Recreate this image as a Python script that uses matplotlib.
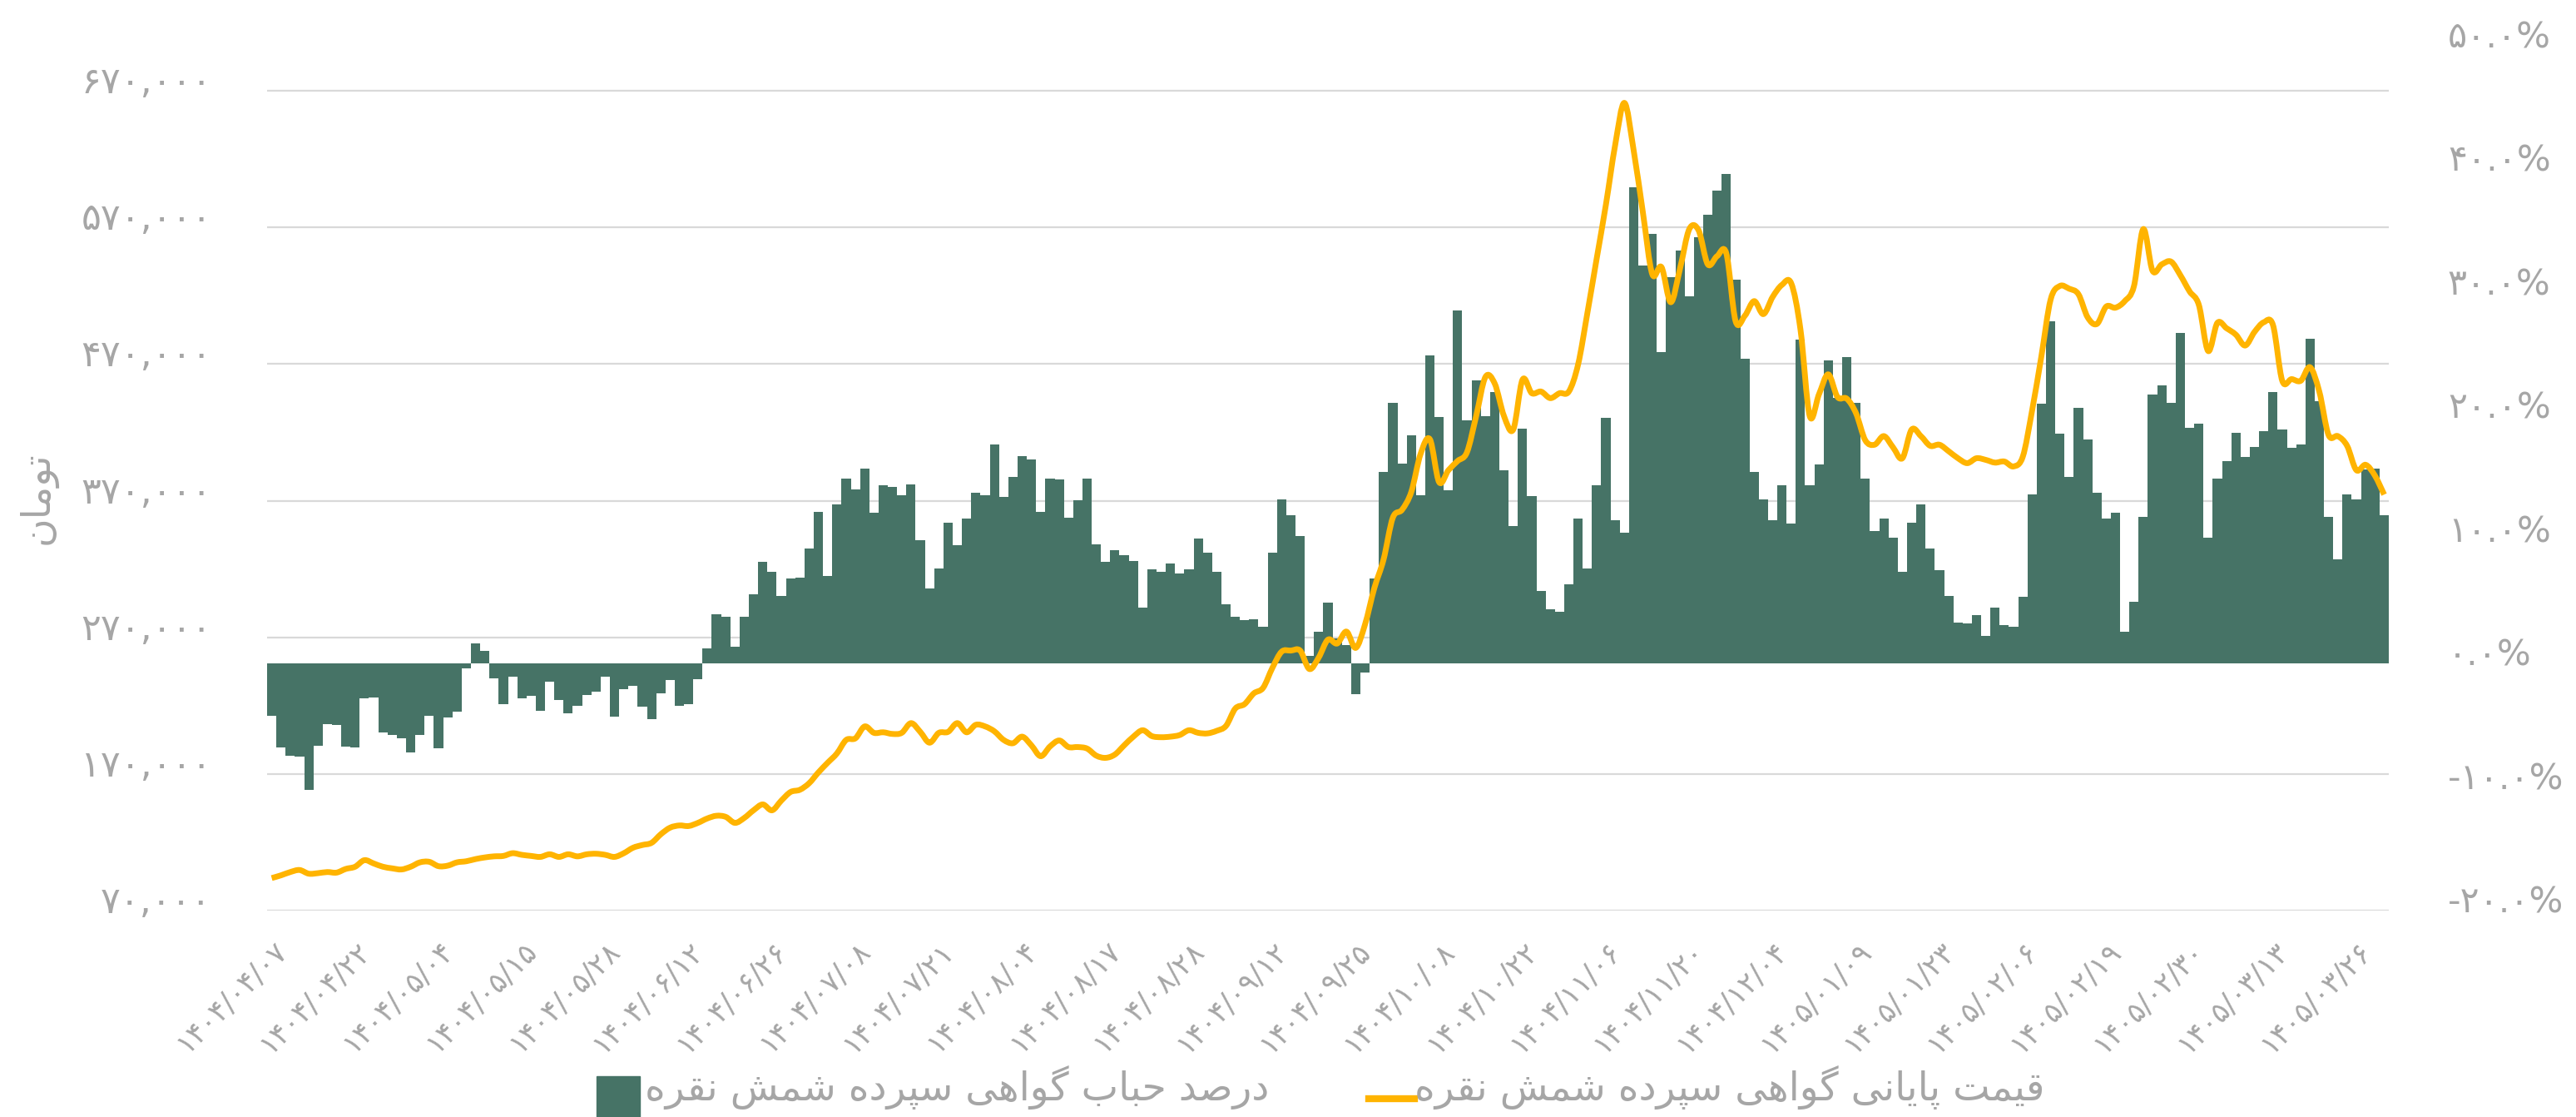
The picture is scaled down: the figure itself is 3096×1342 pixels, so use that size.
import numpy as np
import matplotlib
matplotlib.use('Agg')
import matplotlib.pyplot as plt
from matplotlib.path import Path
from matplotlib.patches import PathPatch, Rectangle
from matplotlib.lines import Line2D
import matplotlib.transforms as mtransforms
from matplotlib.ticker import FixedLocator, FuncFormatter

plt.rcParams['font.family'] = ['DejaVu Sans']

# ---------------- data ----------------
bubble_pct = [
    -4.25, -6.8, -7.5, -7.55, -10.2, -6.67, -4.9, -5.0, -6.7, -6.8,
    -2.85, -2.76, -5.6, -5.8, -6.05, -7.2, -5.8, -4.25, -6.85, -4.4,
    -3.9, -0.4, 1.6, 1.05, -1.2, -3.3, -1.05, -2.8, -2.6, -3.8,
    -1.45, -2.95, -4.0, -3.4, -2.55, -2.3, -1.05, -4.3, -2.1, -1.8,
    -3.5, -4.5, -2.4, -1.36, -3.45, -3.3, -1.27, 1.2, 4.0, 3.8,
    1.36, 3.8, 5.6, 8.25, 7.45, 5.5, 6.9, 6.97, 9.34, 12.3,
    7.06, 12.85, 15.0, 14.1, 15.75, 12.2, 14.4, 14.3, 13.6, 14.5,
    10.0, 6.05, 7.7, 11.4, 9.6, 11.7, 13.8, 13.6, 17.7, 13.5,
    15.1, 16.8, 16.5, 12.3, 15.0, 14.9, 11.8, 13.2, 14.95, 9.65,
    8.25, 9.2, 8.8, 8.3, 4.5, 7.6, 7.45, 8.1, 7.3, 7.6,
    10.1, 9.0, 7.45, 4.8, 3.8, 3.5, 3.55, 3.0, 8.95, 13.25,
    12.0, 10.3, 0.6, 2.6, 4.9, 2.0, 1.5, -2.45, -0.75, 6.9,
    15.5, 21.1, 16.2, 18.5, 13.6, 24.95, 19.95, 14.0, 28.6, 19.65,
    22.9, 20.0, 22.0, 15.65, 11.1, 19.0, 13.55, 5.9, 4.4, 4.2,
    6.4, 11.75, 7.7, 14.4, 19.9, 11.6, 10.6, 38.55, 32.2, 34.8,
    25.2, 31.3, 33.4, 29.7, 34.5, 36.35, 38.3, 39.6, 31.05, 24.7,
    15.5, 13.3, 11.6, 14.4, 11.3, 26.2, 14.4, 16.1, 24.5, 21.5,
    24.8, 21.1, 15.0, 10.75, 11.7, 10.2, 7.45, 11.4, 12.9, 9.3,
    7.55, 5.5, 3.3, 3.25, 3.9, 2.2, 4.5, 3.1, 3.0, 5.4,
    13.7, 21.0, 27.7, 18.6, 15.1, 20.7, 18.15, 13.8, 11.75, 12.2,
    2.6, 5.0, 11.9, 21.8, 22.5, 21.1, 26.75, 19.1, 19.4, 10.2,
    14.95, 16.35, 18.7, 16.7, 17.5, 18.8, 22.0, 18.95, 17.45, 17.75,
    26.3, 21.2, 11.85, 8.4, 13.7, 13.25, 15.7, 15.8, 12.0,
]

price = [
    93800, 95800, 98200, 99700, 97000, 97400, 98200, 97800, 100500, 102100,
    106900, 104500, 102100, 100900, 100100, 102100, 105300, 105700, 102500, 102900,
    105300, 106100, 107700, 108900, 109700, 110000, 112000, 110800, 110000, 109300,
    111200, 109300, 111200, 109700, 111200, 111600, 110800, 109300, 112000, 116000,
    118000, 119600, 125900, 130700, 132300, 131900, 134200, 137400, 139400, 138600,
    134200, 137800, 143400, 147700, 143400, 150500, 156800, 158400, 163200, 171100,
    178200, 185000, 194900, 196100, 204800, 200100, 200500, 199300, 200100, 207200,
    200800, 192900, 200100, 200800, 207200, 200500, 206000, 204800, 201200, 194900,
    192500, 197300, 190900, 183000, 190100, 194500, 189700, 189700, 188600, 183400,
    181800, 184200, 190900, 197300, 202000, 197700, 196900, 197300, 198500, 202000,
    200100, 199700, 201600, 205200, 217900, 221100, 229000, 233000, 247600, 259500,
    260300, 260300, 246800, 255200, 268300, 265500, 274200, 262300, 279400, 305900,
    326900, 357500, 363400, 376500, 404300, 415000, 383600, 392300, 399100, 405400,
    432000, 460600, 455800, 432000, 422100, 458600, 448700, 449900, 445100, 448700,
    449900, 469700, 507300, 547000, 586600, 630300, 661200, 626300, 580700, 535900,
    541000, 515300, 539900, 568800, 568000, 543000, 549000, 551000, 501400, 505400,
    516100, 506600, 519200, 528000, 529200, 495400, 432000, 447900, 462500, 445900,
    444700, 434000, 414200, 411000, 417300, 409000, 401100, 422100, 417300, 410200,
    411000, 406200, 401100, 397500, 401100, 399900, 397900, 398700, 395100, 402300,
    436000, 475600, 517200, 527200, 525200, 521200, 504200, 499400, 512100, 511300,
    516100, 527200, 568800, 538300, 543000, 545000, 535100, 523200, 513300, 479600,
    500200, 496200, 491500, 483600, 493500, 500600, 498600, 457800, 459000, 457800,
    467700, 449900, 418100, 417300, 410200, 392400, 396300, 388400, 374500,
]

date_labels = [
    '۱۴۰۴/۰۴/۰۷', '۱۴۰۴/۰۴/۲۲', '۱۴۰۴/۰۵/۰۴', '۱۴۰۴/۰۵/۱۵', '۱۴۰۴/۰۵/۲۸',
    '۱۴۰۴/۰۶/۱۲', '۱۴۰۴/۰۶/۲۶', '۱۴۰۴/۰۷/۰۸', '۱۴۰۴/۰۷/۲۱', '۱۴۰۴/۰۸/۰۴',
    '۱۴۰۴/۰۸/۱۷', '۱۴۰۴/۰۸/۲۸', '۱۴۰۴/۰۹/۱۲', '۱۴۰۴/۰۹/۲۵', '۱۴۰۴/۱۰/۰۸',
    '۱۴۰۴/۱۰/۲۲', '۱۴۰۴/۱۱/۰۶', '۱۴۰۴/۱۱/۲۰', '۱۴۰۴/۱۲/۰۴', '۱۴۰۵/۰۱/۰۹',
    '۱۴۰۵/۰۱/۲۳', '۱۴۰۵/۰۲/۰۶', '۱۴۰۵/۰۲/۱۹', '۱۴۰۵/۰۲/۳۰', '۱۴۰۵/۰۳/۱۳',
    '۱۴۰۵/۰۳/۲۶',
]
price_ticks = [70000, 170000, 270000, 370000, 470000, 570000, 670000]
pct_ticks = [-20, -10, 0, 10, 20, 30, 40, 50]
legend_bar = 'درصد حباب گواهی سپرده شمش نقره'
legend_line = 'قیمت پایانی گواهی سپرده شمش نقره'
y_label = 'تومان'

# ---------------- helpers ----------------
FORMS = {
    'ا': ('\uFE8D', '\uFE8E', None, None),
    'ب': ('\uFE8F', '\uFE90', '\uFE91', '\uFE92'),
    'ت': ('\uFE95', '\uFE96', '\uFE97', '\uFE98'),
    'ح': ('\uFEA1', '\uFEA2', '\uFEA3', '\uFEA4'),
    'د': ('\uFEA9', '\uFEAA', None, None),
    'ر': ('\uFEAD', '\uFEAE', None, None),
    'س': ('\uFEB1', '\uFEB2', '\uFEB3', '\uFEB4'),
    'ش': ('\uFEB5', '\uFEB6', '\uFEB7', '\uFEB8'),
    'ص': ('\uFEB9', '\uFEBA', '\uFEBB', '\uFEBC'),
    'ق': ('\uFED5', '\uFED6', '\uFED7', '\uFED8'),
    'م': ('\uFEE1', '\uFEE2', '\uFEE3', '\uFEE4'),
    'ن': ('\uFEE5', '\uFEE6', '\uFEE7', '\uFEE8'),
    'ه': ('\uFEE9', '\uFEEA', '\uFEEB', '\uFEEC'),
    'و': ('\uFEED', '\uFEEE', None, None),
    'پ': ('\uFB56', '\uFB57', '\uFB58', '\uFB59'),
    'گ': ('\uFB92', '\uFB93', '\uFB94', '\uFB95'),
    'ی': ('\uFBFC', '\uFBFD', '\uFBFE', '\uFBFF'),
}


def shape_fa(s):
    out = []
    n = len(s)
    for i, ch in enumerate(s):
        if ch not in FORMS:
            out.append(ch)
            continue
        prev = s[i - 1] if i > 0 else None
        nxt = s[i + 1] if i < n - 1 else None
        dual = FORMS[ch][2] is not None
        j_prev = prev in FORMS and FORMS[prev][2] is not None
        j_next = dual and nxt in FORMS
        if j_prev and j_next:
            out.append(FORMS[ch][3])
        elif j_prev:
            out.append(FORMS[ch][1])
        elif j_next:
            out.append(FORMS[ch][2])
        else:
            out.append(FORMS[ch][0])
    return ''.join(reversed(out))


FA_DIG = str.maketrans('0123456789', '۰۱۲۳۴۵۶۷۸۹')

# ---------------- style ----------------
BAR = '#467366'
LINE = '#FFB400'
GRID = '#d9d9d9'
GRAY = '#a6a6a6'

W, H = 3096, 1342
fig = plt.figure(figsize=(W / 100, H / 100), dpi=100)
L, R, T, B = 321, 2871, 55, 1094
ax = fig.add_axes([L / W, 1 - B / H, (R - L) / W, (B - T) / H])
axl = ax.twinx()

n = len(bubble_pct)
x = np.arange(n)
ax.set_xlim(-0.5, n - 0.5)
ax.set_ylim(-20, 50)
axl.set_ylim(70000, 703000)

# gridlines belong to the price axis but sit behind the bars
gtrans = mtransforms.blended_transform_factory(ax.transAxes, axl.transData)
for p in price_ticks:
    ax.plot([0, 1], [p, p], transform=gtrans, color=GRID, lw=1.6, zorder=1,
            solid_capstyle='butt')

ax.bar(x, bubble_pct, width=1.0, color=BAR, linewidth=0, zorder=2)

# smooth price line (cubic Bezier through the data points)
ys = np.array(price, dtype=float)
verts = [(x[0], ys[0])]
codes = [Path.MOVETO]
for i in range(n - 1):
    p0 = (x[i - 1], ys[i - 1]) if i > 0 else (x[i], ys[i])
    p1 = (x[i], ys[i])
    p2 = (x[i + 1], ys[i + 1])
    p3 = (x[i + 2], ys[i + 2]) if i + 2 < n else p2
    c1 = (p1[0] + (p2[0] - p0[0]) / 6, p1[1] + (p2[1] - p0[1]) / 6)
    c2 = (p2[0] - (p3[0] - p1[0]) / 6, p2[1] - (p3[1] - p1[1]) / 6)
    verts += [c1, c2, p2]
    codes += [Path.CURVE4] * 3
axl.add_patch(PathPatch(Path(verts, codes), facecolor='none', edgecolor=LINE,
                        lw=5.0, capstyle='butt', joinstyle='round', zorder=3))

for a in (ax, axl):
    for s in a.spines.values():
        s.set_visible(False)

# right axis: percent
ax.yaxis.set_ticks_position('right')
ax.yaxis.set_major_locator(FixedLocator(pct_ticks))
ax.yaxis.set_major_formatter(FuncFormatter(
    lambda v, p: (('-' if v < 0 else '') + f'{abs(v):.1f}%').translate(FA_DIG)))
ax.tick_params(axis='y', length=0, pad=51, labelsize=31, labelcolor=GRAY)

# left axis: price
axl.yaxis.set_ticks_position('left')
axl.yaxis.set_major_locator(FixedLocator(price_ticks))
axl.yaxis.set_major_formatter(FuncFormatter(
    lambda v, p: f'{int(round(v)):,}'.translate(FA_DIG)))
axl.tick_params(axis='y', length=0, pad=48, labelsize=32, labelcolor=GRAY)

# x axis
ax.set_xticks(np.arange(0, n, 9)[:len(date_labels)])
ax.set_xticklabels(date_labels, rotation=45, ha='right', va='top',
                   rotation_mode='anchor', fontsize=25, color=GRAY)
ax.tick_params(axis='x', length=0, pad=22)
axl.tick_params(axis='x', length=0)

# lift y tick labels a little, as in the reference
off = mtransforms.ScaledTranslation(0, 14 / 100, fig.dpi_scale_trans)
for lab in ax.get_yticklabels() + axl.get_yticklabels():
    lab.set_transform(lab.get_transform() + off)

# y axis title
fig.text(45 / W, 1 - 598 / H, shape_fa(y_label), rotation=90, ha='center',
         va='center', fontsize=34, color=GRAY)

# legend
fig.patches.append(Rectangle((717 / W, 0), 52 / W, 49 / H,
                             transform=fig.transFigure, color=BAR))
fig.text(775 / W, 1 - 1306 / H, shape_fa(legend_bar), ha='left', va='center',
         fontsize=34, color=GRAY)
fig.lines.append(Line2D([1645 / W, 1700 / W], [1 - 1320 / H] * 2,
                        transform=fig.transFigure, color=LINE, lw=6))
fig.text(1700 / W, 1 - 1306 / H, shape_fa(legend_line), ha='left', va='center',
         fontsize=34, color=GRAY)

fig.savefig('out.png', dpi=100)
